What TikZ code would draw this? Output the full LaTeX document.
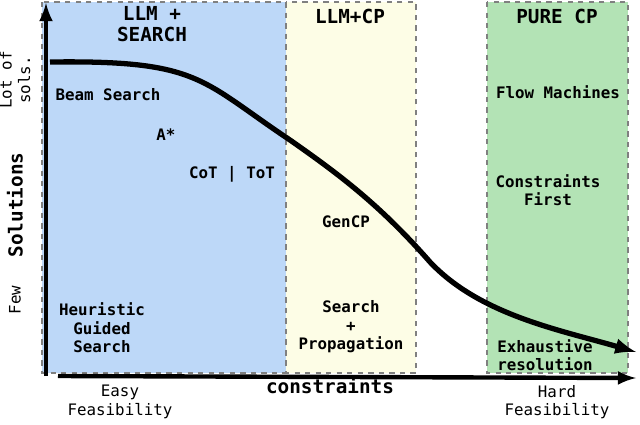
\documentclass[tikz,border=0pt]{standalone}
\usepackage{fontspec}
\setmonofont{DejaVu Sans Mono}
\setmainfont{DejaVu Sans Mono}
\definecolor{zblue}{HTML}{BDD8F8}
\definecolor{zyel}{HTML}{FDFDE6}
\definecolor{zgreen}{HTML}{B3E3B5}
\begin{document}
\begin{tikzpicture}[x=0.02cm,y=-0.02cm,
  zone/.style={draw=gray,dashed,line width=1.2pt},
  lbl/.style={font=\bfseries\fontsize{9}{10.5}\selectfont,align=center,inner sep=0pt},
  ttl/.style={font=\bfseries\fontsize{11}{12}\selectfont,align=center,inner sep=0pt},
  axl/.style={font=\fontsize{9}{10.5}\selectfont,align=center,inner sep=0pt}]
\useasboundingbox (0,0) rectangle (640,424);
\fill[zblue] (42,2) rectangle (286,373);
\fill[zyel] (286,2) rectangle (416,373);
\fill[zgreen] (487,2) rectangle (628,373);
\draw[zone] (42,2) rectangle (286,373);
\draw[zone] (286,2) rectangle (416,373);
\draw[zone] (487,2) rectangle (628,373);
\coordinate (o) at (46,376);
\coordinate (ytop) at (46,3);
\coordinate (xo) at (58,376);
\coordinate (xend) at (636,378);
\draw[line width=2.5pt,-latex] (o) -- (ytop);
\draw[line width=2.5pt,-latex] (xo) -- (xend);
\coordinate (c0) at (50,62);
\coordinate (c1) at (636,352);
\draw[line width=3pt,-latex] (c0) .. controls (200,60) and (200,80) .. (290,140)
  .. controls (340,175) and (380,205) .. (430,262)
  .. controls (480,315) and (560,330) .. (c1);
\node[ttl] (t1) at (152,24) {LLM +\\SEARCH};
\node[ttl] (t2) at (350,16) {LLM+CP};
\node[ttl] (t3) at (557,16) {PURE CP};
\node[lbl] (a) at (108,95) {Beam Search};
\node[lbl] (b) at (166,135) {A*};
\node[lbl] (c) at (232,174) {CoT | ToT};
\node[lbl] (d) at (346,222) {GenCP};
\node[lbl] (e) at (102,328) {Heuristic\\Guided\\Search};
\node[lbl] (f) at (351,327) {Search\\+\\Propagation};
\node[lbl] (g) at (558,92) {Flow Machines};
\node[lbl] (h) at (548,190) {Constraints\\First};
\node[lbl] (i) at (545,355) {Exhaustive\\resolution};
\node[axl,rotate=90] (l1) at (15,80) {Lot of\\sols.};
\node[ttl,rotate=90] (l2) at (15,205) {Solutions};
\node[axl,rotate=90] (l3) at (15,300) {Few};
\node[ttl] (l4) at (330,386) {constraints};
\node[axl] (l5) at (120,402) {Easy\\Feasibility};
\node[axl] (l6) at (557,402) {Hard\\Feasibility};
\end{tikzpicture}
\end{document}
